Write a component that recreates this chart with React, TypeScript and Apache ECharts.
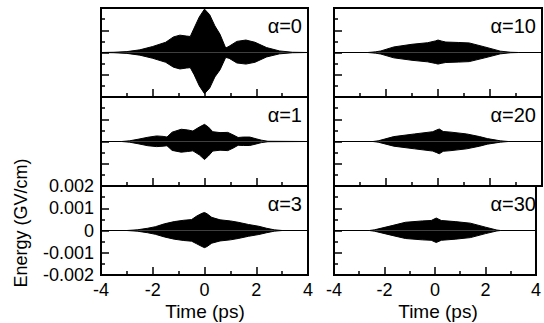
import React, { useEffect, useRef } from "react";
import * as echarts from "echarts";

// ---- data ----
const panelLabels = ["α=0", "α=1", "α=3", "α=10", "α=20", "α=30"];

const t0 = [-4, -3.5, -3.0, -2.5, -2.0, -1.5, -1.2, -0.95, -0.7, -0.55, -0.4, -0.2, 0, 0.2, 0.4, 0.6, 0.82, 0.95, 1.25, 1.6, 1.95, 2.4, 2.9, 3.4, 4];
const up0 = [0, 0.00001, 0.00004, 0.00012, 0.00027, 0.00046, 0.0007, 0.00078, 0.00074, 0.00072, 0.0011, 0.0016, 0.00195, 0.0017, 0.0012, 0.00082, 0.0002, 0.00028, 0.0005, 0.00056, 0.00046, 0.00022, 0.00007, 0.00001, 0];
const lo0 = [0, 0.00001, 0.00004, 0.00012, 0.00026, 0.00044, 0.00066, 0.00074, 0.0007, 0.00068, 0.001, 0.0015, 0.00185, 0.0016, 0.0011, 0.00078, 0.00022, 0.00026, 0.00047, 0.00052, 0.00044, 0.0002, 0.00006, 0.00001, 0];

const t1 = [-4, -3.2, -2.9, -2.57, -2.19, -1.85, -1.6, -1.45, -1.25, -0.9, -0.65, -0.45, -0.2, 0, 0.15, 0.32, 0.6, 0.9, 1.1, 1.3, 1.5, 1.75, 2.0, 2.2, 2.45, 4];
const up1 = [0, 0, 0.00003, 0.0001, 0.00019, 0.00025, 0.00023, 0.0002, 0.00042, 0.00055, 0.00052, 0.00047, 0.00065, 0.00077, 0.00065, 0.00044, 0.0004, 0.00041, 0.0003, 0.00018, 0.0002, 0.0002, 0.00012, 0.00006, 0.00001, 0];
const lo1 = [0, 0, 0.00003, 0.0001, 0.00019, 0.00023, 0.00021, 0.00019, 0.0004, 0.00048, 0.00045, 0.00042, 0.0006, 0.00081, 0.00065, 0.00043, 0.00039, 0.00041, 0.0003, 0.00017, 0.00018, 0.00018, 0.00011, 0.00005, 0.00001, 0];

const t3 = [-4, -3.0, -2.6, -2.2, -1.9, -1.55, -1.17, -0.8, -0.5, -0.3, -0.1, 0, 0.1, 0.28, 0.6, 1.0, 1.3, 1.7, 2.1, 2.4, 2.7, 3.0, 4];
const up3 = [0, 0, 0.00003, 0.0001, 0.00017, 0.0003, 0.0004, 0.00046, 0.00049, 0.00065, 0.00077, 0.00081, 0.00075, 0.00059, 0.00048, 0.00043, 0.00037, 0.00027, 0.00019, 0.0001, 0.00003, 0, 0];
const lo3 = [0, 0, 0.00003, 0.0001, 0.00017, 0.00029, 0.00039, 0.00045, 0.00048, 0.0006, 0.00072, 0.00077, 0.00072, 0.00057, 0.00047, 0.00042, 0.00036, 0.00026, 0.00018, 0.0001, 0.00003, 0, 0];

const t10 = [-4, -2.7, -2.4, -2.2, -1.7, -1.0, -0.4, -0.1, 0, 0.15, 0.3, 0.8, 1.2, 1.8, 2.4, 2.8, 3.1, 4];
const up10 = [0, 0, 0.00003, 0.00007, 0.00025, 0.00037, 0.00044, 0.00052, 0.00056, 0.00051, 0.00047, 0.00045, 0.00043, 0.00025, 0.00006, 0.00001, 0, 0];
const lo10 = [0, 0, 0.00003, 0.00007, 0.00024, 0.00035, 0.00042, 0.00049, 0.00052, 0.00048, 0.00045, 0.00043, 0.00041, 0.00024, 0.00006, 0.00001, 0, 0];

const t20 = [-4, -2.5, -2.3, -1.7, -0.9, -0.2, -0.05, 0.05, 0.2, 0.5, 1.1, 1.6, 1.9, 2.4, 2.7, 4];
const up20 = [0, 0, 0.00003, 0.00022, 0.00034, 0.00044, 0.00052, 0.00056, 0.00045, 0.00042, 0.00034, 0.00022, 0.00013, 0.00003, 0, 0];
const lo20 = [0, 0, 0.00003, 0.00021, 0.00033, 0.00043, 0.0005, 0.00055, 0.00044, 0.00041, 0.00033, 0.00021, 0.00012, 0.00003, 0, 0];

const t30 = [-4, -2.6, -2.4, -1.7, -1.17, -0.5, -0.15, 0.05, 0.25, 0.8, 1.4, 2.0, 2.45, 2.6, 4];
const up30 = [0, 0, 0.00003, 0.00022, 0.00037, 0.00043, 0.00045, 0.00056, 0.00045, 0.0004, 0.00033, 0.00015, 0.00002, 0, 0];
const lo30 = [0, 0, 0.00003, 0.00022, 0.00036, 0.00042, 0.00044, 0.00054, 0.00044, 0.00039, 0.00032, 0.00014, 0.00002, 0, 0];

const xTicks = [-4, -2, 0, 2, 4];
const yTicks = [-0.002, -0.001, 0, 0.001, 0.002];

const panels = [
  { t: t0, up: up0, lo: lo0 },
  { t: t1, up: up1, lo: lo1 },
  { t: t3, up: up3, lo: lo3 },
  { t: t10, up: up10, lo: lo10 },
  { t: t20, up: up20, lo: lo20 },
  { t: t30, up: up30, lo: lo30 },
];

const FONT = "'Liberation Sans', Arial, Helvetica, sans-serif";

export default function App() {
  const ref = useRef<HTMLDivElement>(null);

  useEffect(() => {
    if (!ref.current) return;
    const chart = echarts.init(ref.current, undefined, { renderer: "svg" });

    const colLeft = [101, 334];
    const colWidth = [207, 208];
    const rowTop = [8, 97, 186];
    const rowH = 89;

    const grids: any[] = [];
    const xAxes: any[] = [];
    const yAxes: any[] = [];
    const series: any[] = [];
    const graphics: any[] = [];

    panels.forEach((p, i) => {
      const col = Math.floor(i / 3);
      const row = i % 3;
      const left = colLeft[col];
      const top = rowTop[row];
      grids.push({
        left,
        top,
        width: colWidth[col],
        height: rowH,
        show: true,
        borderColor: "#000",
        borderWidth: 2,
        backgroundColor: "transparent",
      });
      const isBottom = row === 2;
      xAxes.push({
        type: "value",
        gridIndex: i,
        position: "bottom",
        min: xTicks[0],
        max: xTicks[xTicks.length - 1],
        interval: xTicks[1] - xTicks[0],
        axisLine: { show: false, onZero: false },
        axisTick: { show: true, inside: true, length: 8, lineStyle: { color: "#000", width: 1.5 } },
        minorTick: { show: true, splitNumber: 2, length: 4, lineStyle: { color: "#000", width: 1.5 } },
        splitLine: { show: false },
        axisLabel: {
          show: isBottom,
          color: "#000",
          fontSize: 18,
          fontFamily: FONT,
          margin: 6,
          formatter: (v: number) => String(Math.round(v)),
        },
      });
      const showYLabels = i === 2;
      yAxes.push({
        type: "value",
        gridIndex: i,
        position: "left",
        min: yTicks[0],
        max: yTicks[yTicks.length - 1],
        interval: yTicks[1] - yTicks[0],
        axisLine: { show: false, onZero: false },
        axisTick: { show: true, inside: true, length: 8, lineStyle: { color: "#000", width: 1.5 } },
        minorTick: { show: true, splitNumber: 2, length: 4, lineStyle: { color: "#000", width: 1.5 } },
        splitLine: { show: false },
        axisLabel: {
          show: showYLabels,
          color: "#000",
          fontSize: 18,
          fontFamily: FONT,
          margin: 7,
          formatter: (v: number) => (Math.abs(v) < 1e-9 ? "0" : v.toFixed(3)),
        },
      });
      const common = {
        type: "line",
        xAxisIndex: i,
        yAxisIndex: i,
        showSymbol: false,
        symbol: "none",
        lineStyle: { color: "#000", width: 1 },
        areaStyle: { color: "#000", opacity: 1 },
        silent: true,
        z: 1,
      };
      series.push({ ...common, data: p.t.map((t, j) => [t, p.up[j]]) });
      series.push({ ...common, data: p.t.map((t, j) => [t, -p.lo[j]]) });

      graphics.push({
        type: "text",
        x: left + colWidth[col] - 6,
        y: top + 18,
        style: {
          text: panelLabels[i],
          fill: "#000",
          fontSize: 20,
          fontFamily: FONT,
          align: "right",
          verticalAlign: "middle",
        },
      });
    });

    graphics.push({
      type: "text",
      x: 205,
      y: 311,
      style: { text: "Time (ps)", fill: "#000", fontSize: 19, fontFamily: FONT, align: "center", verticalAlign: "middle" },
    });
    graphics.push({
      type: "text",
      x: 438,
      y: 311,
      style: { text: "Time (ps)", fill: "#000", fontSize: 19, fontFamily: FONT, align: "center", verticalAlign: "middle" },
    });
    graphics.push({
      type: "text",
      x: 21,
      y: 223,
      rotation: Math.PI / 2,
      style: { text: "Energy (GV/cm)", fill: "#000", fontSize: 18, fontFamily: FONT, align: "center", verticalAlign: "middle" },
    });

    chart.setOption({
      animation: false,
      backgroundColor: "#fff",
      grid: grids,
      xAxis: xAxes,
      yAxis: yAxes,
      series,
      graphic: graphics,
    });

    return () => chart.dispose();
  }, []);

  return (
    <div
      ref={ref}
      style={{ position: "absolute", left: 0, top: 0, width: 544, height: 323 }}
    />
  );
}
